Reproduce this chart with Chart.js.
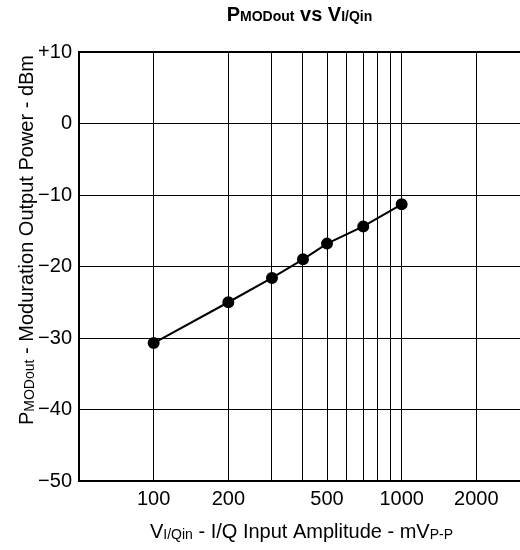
<!DOCTYPE html>
<html>
<head>
  <meta charset="UTF-8">
  <title>PMODout vs VI/Qin</title>
  <script src="https://cdn.jsdelivr.net/npm/chart.js"></script>
  <style>
    body { margin: 0; background: #fff; }
    canvas { display: block; }
  </style>
</head>
<body>
  <canvas id="chart" width="520" height="550"></canvas>

  <script>
    // data
    const inputMvpp = [100, 200, 300, 400, 500, 700, 1000];
    const powerDbm = [-30.7, -25.0, -21.6, -19.0, -16.8, -14.4, -11.3];

    const xGridValues = [100, 200, 300, 400, 500, 600, 700, 800, 900, 1000, 2000];
    const xLabelValues = [100, 200, 500, 1000, 2000];
    const yTickValues = [-50, -40, -30, -20, -10, 0, 10];

    const FONT = "'Liberation Sans', Arial, sans-serif";

    // draws text runs (main text + smaller subscripts) centered on cx
    function drawRich(ctx, parts, cx, y) {
      let total = 0;
      parts.forEach(p => {
        ctx.font = p.font;
        p.w = ctx.measureText(p.text).width;
        total += p.w;
      });
      let x = cx - total / 2;
      parts.forEach(p => {
        ctx.font = p.font;
        ctx.fillText(p.text, x, y + (p.dy || 0));
        x += p.w;
      });
    }

    const titlesPlugin = {
      id: 'titles',
      afterDraw(chart) {
        const ctx = chart.ctx;
        const area = chart.chartArea;
        const cx = (area.left + area.right) / 2;
        ctx.save();
        ctx.fillStyle = '#000';
        ctx.textAlign = 'left';
        ctx.textBaseline = 'alphabetic';

        const big = 'bold 20px ' + FONT;
        const small = 'bold 14px ' + FONT;
        drawRich(ctx, [
          { text: 'P', font: big },
          { text: 'MODout', font: small },
          { text: ' vs ', font: big },
          { text: 'V', font: big },
          { text: 'I/Qin', font: small }
        ], cx, 21);

        const norm = '20px ' + FONT;
        const sub = '14px ' + FONT;
        drawRich(ctx, [
          { text: 'V', font: norm },
          { text: 'I/Qin', font: sub, dy: 1 },
          { text: ' - I/Q Input Amplitude - mV', font: norm },
          { text: 'P-P', font: sub, dy: 1 }
        ], cx + 2, 538);

        // y title sits a bit above the plot's middle in the reference
        ctx.translate(33, 240);
        ctx.rotate(-Math.PI / 2);
        drawRich(ctx, [
          { text: 'P', font: norm },
          { text: 'MODout', font: sub, dy: 1 },
          { text: ' - Moduration Output Power - dBm', font: norm }
        ], 0, 0);
        ctx.restore();
      }
    };

    new Chart(document.getElementById('chart'), {
      type: 'line',
      data: {
        datasets: [{
          data: inputMvpp.map((x, i) => ({ x: x, y: powerDbm[i] })),
          borderColor: '#000',
          borderWidth: 2,
          pointRadius: 5,
          pointBackgroundColor: '#000',
          pointBorderColor: '#000',
          tension: 0
        }]
      },
      options: {
        responsive: false,
        animation: false,
        layout: { autoPadding: false, padding: { top: 52, right: 0, left: 0, bottom: 0 } },
        plugins: {
          legend: { display: false },
          tooltip: { enabled: false }
        },
        scales: {
          x: {
            type: 'logarithmic',
            min: 50,
            max: 3000,
            afterBuildTicks: s => { s.ticks = xGridValues.map(v => ({ value: v })); },
            afterFit: s => { s.height = 69; s.paddingLeft = 0; s.paddingRight = 0; },
            ticks: {
              autoSkip: false,
              maxRotation: 0,
              padding: 6,
              color: '#000',
              font: { size: 20, family: FONT },
              callback: v => xLabelValues.includes(v) ? String(v) : ''
            },
            grid: { color: '#000', lineWidth: 1, drawTicks: false },
            border: { color: '#000', width: 2 }
          },
          y: {
            min: -50,
            max: 10,
            afterBuildTicks: s => { s.ticks = yTickValues.map(v => ({ value: v })); },
            afterFit: s => { s.width = 79; s.paddingTop = 0; s.paddingBottom = 0; },
            ticks: {
              padding: 7,
              color: '#000',
              font: { size: 20, family: FONT },
              callback: v => v > 0 ? '+' + v : (v < 0 ? '\u2212' + Math.abs(v) : '0')
            },
            grid: {
              color: '#000',
              lineWidth: c => c.tick && c.tick.value === 10 ? 2 : 1,
              drawTicks: false
            },
            border: { color: '#000', width: 2 }
          }
        }
      },
      plugins: [titlesPlugin]
    });
  </script>
</body>
</html>
